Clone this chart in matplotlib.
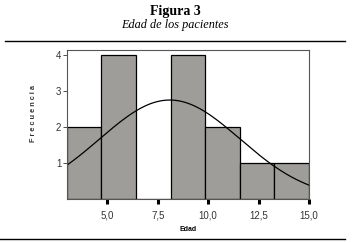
import numpy as np
import matplotlib.pyplot as plt

# histogram data
bin_edges = [3.0, 3 + 12/7, 3 + 24/7, 3 + 36/7, 3 + 48/7, 3 + 60/7, 3 + 72/7, 15.0]
counts = [2, 4, 0, 4, 2, 1, 1]
xticks = [5.0, 7.5, 10.0, 12.5, 15.0]
xtick_labels = ['5,0', '7,5', '10,0', '12,5', '15,0']
yticks = [1, 2, 3, 4]

# fitted normal curve parameters
mean_age = 8.1
sd_age = 3.48
n_total = sum(counts)
bin_width = 12 / 7

fig = plt.figure(figsize=(3.52, 2.43), dpi=100)

fig.text(0.497, 0.953, 'Figura 3', ha='center', va='center',
         family='Liberation Serif', fontweight='bold', fontsize=10)
fig.text(0.497, 0.898, 'Edad de los pacientes', ha='center', va='center',
         family='Liberation Serif', style='italic', fontsize=8.8)
fig.add_artist(plt.Line2D([0.014, 0.98], [0.831, 0.831], color='black', lw=1))
fig.add_artist(plt.Line2D([0.0, 0.98], [0.018, 0.018], color='black', lw=1))

ax = fig.add_axes([0.190, 0.181, 0.688, 0.613])
widths = np.diff(bin_edges)
ax.bar(bin_edges[:-1], counts, width=widths, align='edge',
       color='#9e9d9a', edgecolor='black', linewidth=0.9)

x = np.linspace(3, 15, 200)
y = n_total * bin_width / (sd_age * np.sqrt(2 * np.pi)) * np.exp(-0.5 * ((x - mean_age) / sd_age) ** 2)
ax.plot(x, y, color='black', lw=0.9)

ax.set_xlim(3, 15)
ax.set_ylim(0, 4.14)
ax.set_xticks(xticks)
ax.set_xticklabels(xtick_labels, family='Liberation Sans', fontsize=7, color='#333333')
ax.set_yticks(yticks)
ax.set_yticklabels([str(v) for v in yticks], family='Liberation Sans', fontsize=7, color='#333333')
ax.tick_params(axis='x', length=3.5, width=2.2, color='black', pad=5)
ax.tick_params(axis='y', length=3, width=0.6, color='#333333', pad=1)
for s in ax.spines.values():
    s.set_color('#555555')
    s.set_linewidth(0.8)

ax.set_xlabel('Edad', family='Liberation Sans', fontweight='bold', fontsize=5, labelpad=4)
ax.set_ylabel('F r e c u e n c i a', family='Liberation Sans', fontweight='bold',
              fontsize=5.3, color='#333333')
ax.yaxis.set_label_coords(-0.125, 0.575)

plt.savefig('out.png', dpi=100)
